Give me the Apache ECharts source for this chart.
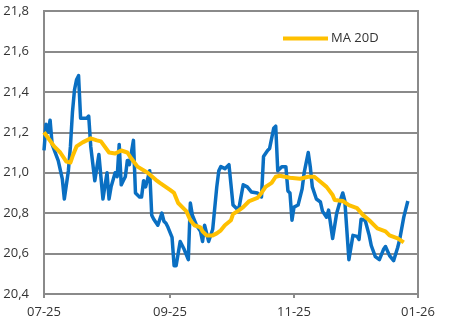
<!DOCTYPE html>
<html><head><meta charset="utf-8">
<script src="https://cdn.jsdelivr.net/npm/echarts@6/dist/echarts.min.js"></script>
<style>html,body{margin:0;padding:0;background:#fff}#c{width:466px;height:331px}</style>
</head><body><div id="c"></div>
<script>
const priceDates = ['2025-07-01','2025-07-02','2025-07-03','2025-07-04','2025-07-05','2025-07-08','2025-07-10','2025-07-11','2025-07-13','2025-07-14','2025-07-15','2025-07-16','2025-07-17','2025-07-18','2025-07-19','2025-07-22','2025-07-23','2025-07-24','2025-07-26','2025-07-28','2025-07-30',
'2025-08-01','2025-08-02','2025-08-03','2025-08-05','2025-08-06','2025-08-07','2025-08-08','2025-08-09','2025-08-10','2025-08-11','2025-08-12','2025-08-14','2025-08-15','2025-08-17','2025-08-18','2025-08-19','2025-08-20','2025-08-22','2025-08-23','2025-08-24','2025-08-26','2025-08-28','2025-08-29','2025-08-30','2025-08-31',
'2025-09-02','2025-09-03','2025-09-04','2025-09-06','2025-09-08','2025-09-10','2025-09-11','2025-09-12','2025-09-14','2025-09-16','2025-09-17','2025-09-18','2025-09-20','2025-09-22','2025-09-24','2025-09-25','2025-09-26','2025-09-28','2025-09-30',
'2025-10-02','2025-10-04','2025-10-05','2025-10-07','2025-10-09','2025-10-11','2025-10-14','2025-10-16','2025-10-17','2025-10-19','2025-10-20','2025-10-22','2025-10-23','2025-10-24','2025-10-26','2025-10-28','2025-10-29','2025-10-30','2025-10-31',
'2025-11-01','2025-11-03','2025-11-05','2025-11-06','2025-11-08','2025-11-09','2025-11-10','2025-11-12','2025-11-14','2025-11-15','2025-11-17','2025-11-18','2025-11-20','2025-11-22','2025-11-24','2025-11-25','2025-11-26','2025-11-28','2025-11-30',
'2025-12-02','2025-12-03','2025-12-04','2025-12-06','2025-12-08','2025-12-09','2025-12-11','2025-12-13','2025-12-15','2025-12-16','2025-12-18','2025-12-20','2025-12-22','2025-12-23','2025-12-25','2025-12-27'];
const priceValues = [21.11,21.24,21.20,21.26,21.14,21.06,20.97,20.87,21.01,21.13,21.30,21.41,21.46,21.48,21.27,21.27,21.28,21.13,20.96,21.09,20.87,
21.00,20.87,20.93,21.00,20.98,21.14,20.94,20.96,20.98,21.06,21.04,21.16,20.90,20.88,20.88,20.96,20.93,21.01,20.79,20.77,20.74,20.80,20.76,20.75,20.73,
20.68,20.54,20.54,20.66,20.62,20.57,20.85,20.79,20.74,20.71,20.66,20.74,20.66,20.72,20.93,21.01,21.03,21.02,21.04,
20.84,20.82,20.83,20.94,20.93,20.905,20.90,20.88,21.08,21.11,21.12,21.22,21.23,21.01,21.03,21.03,20.91,20.90,20.765,
20.83,20.84,20.92,21.00,21.10,21.03,20.93,20.87,20.855,20.81,20.78,20.815,20.675,20.80,20.87,20.90,20.86,20.57,20.69,
20.685,20.67,20.77,20.765,20.69,20.64,20.585,20.57,20.62,20.635,20.59,20.565,20.63,20.67,20.78,20.86];

const maDates = ['2025-07-01','2025-07-06','2025-07-09','2025-07-12','2025-07-14','2025-07-15','2025-07-17','2025-07-20','2025-07-24','2025-07-27','2025-07-29',
'2025-08-02','2025-08-05','2025-08-08','2025-08-11','2025-08-13','2025-08-16','2025-08-21','2025-08-25','2025-08-27',
'2025-09-01','2025-09-03','2025-09-05','2025-09-08','2025-09-09','2025-09-11','2025-09-13','2025-09-16','2025-09-17','2025-09-19','2025-09-22','2025-09-24','2025-09-26','2025-09-28',
'2025-10-01','2025-10-02','2025-10-05','2025-10-07','2025-10-10','2025-10-14','2025-10-16','2025-10-18','2025-10-21','2025-10-23','2025-10-25','2025-10-30',
'2025-11-04','2025-11-08','2025-11-11','2025-11-14','2025-11-17','2025-11-20','2025-11-21','2025-11-25','2025-11-28',
'2025-12-02','2025-12-05','2025-12-08','2025-12-12','2025-12-16','2025-12-18','2025-12-22','2025-12-25'];
const maValues = [21.20,21.13,21.10,21.055,21.05,21.08,21.13,21.15,21.17,21.16,21.155,
21.10,21.095,21.11,21.10,21.07,21.03,21.00,20.965,20.95,
20.915,20.90,20.85,20.82,20.81,20.765,20.74,20.73,20.71,20.69,20.69,20.70,20.715,20.74,
20.765,20.795,20.815,20.83,20.86,20.875,20.90,20.93,20.95,20.98,20.985,20.975,
20.97,20.98,20.98,20.955,20.93,20.89,20.865,20.86,20.84,
20.825,20.79,20.765,20.725,20.71,20.69,20.675,20.655];

const xTickDates = ['2025-07-01','2025-09-01','2025-11-01','2026-01-01'];
const xTickLabels = ['07-25','09-25','11-25','01-26'];
const maName = 'MA 20D';

const t0 = Date.parse(xTickDates[0]);
const dayOf = s => Math.round((Date.parse(s) - t0) / 864e5);
const tickDays = xTickDates.map(dayOf);
const pair = (ds, vs) => ds.map((d, i) => [dayOf(d), vs[i]]);

const gridCol = '#8a8a8a';
const font = "'Open Sans', sans-serif";
const chart = echarts.init(document.getElementById('c'), null, {renderer: 'canvas'});
chart.setOption({
  animation: false,
  backgroundColor: '#fff',
  grid: {left: 44, right: 48, top: 11, bottom: 37, show: true, borderColor: gridCol, borderWidth: 2, backgroundColor: 'transparent'},
  legend: {
    data: [maName], left: 278, top: 27, icon: 'rect', itemWidth: 45, itemHeight: 4,
    textStyle: {fontFamily: font, fontSize: 13, color: '#333', padding: [0, 0, 0, -2]}
  },
  xAxis: {
    type: 'value', min: tickDays[0], max: tickDays[tickDays.length - 1],
    axisLine: {show: true, lineStyle: {color: gridCol, width: 2}},
    axisTick: {show: true, customValues: tickDays, length: 4, lineStyle: {color: gridCol, width: 2}},
    axisLabel: {customValues: tickDays, margin: 12, fontFamily: font, fontSize: 13, color: '#333',
      formatter: v => { const i = tickDays.indexOf(Math.round(v)); return i >= 0 ? xTickLabels[i] : ''; }},
    splitLine: {show: false}
  },
  yAxis: {
    type: 'value', min: 20.4, max: 21.8, interval: 0.2,
    axisLine: {show: true, lineStyle: {color: gridCol, width: 2}},
    axisTick: {show: false},
    axisLabel: {margin: 15, fontFamily: font, fontSize: 13, color: '#333',
      formatter: v => v.toFixed(1).replace('.', ',')},
    splitLine: {show: true, lineStyle: {color: gridCol, width: 2}}
  },
  series: [
    {name: 'Price', type: 'line', data: pair(priceDates, priceValues), showSymbol: false,
      lineStyle: {color: '#0a6fc2', width: 3.5, join: 'round'}, itemStyle: {color: '#0a6fc2'}},
    {name: maName, type: 'line', data: pair(maDates, maValues), showSymbol: false,
      lineStyle: {color: '#ffc000', width: 4, join: 'round'}, itemStyle: {color: '#ffc000'}}
  ]
});
</script></body></html>
